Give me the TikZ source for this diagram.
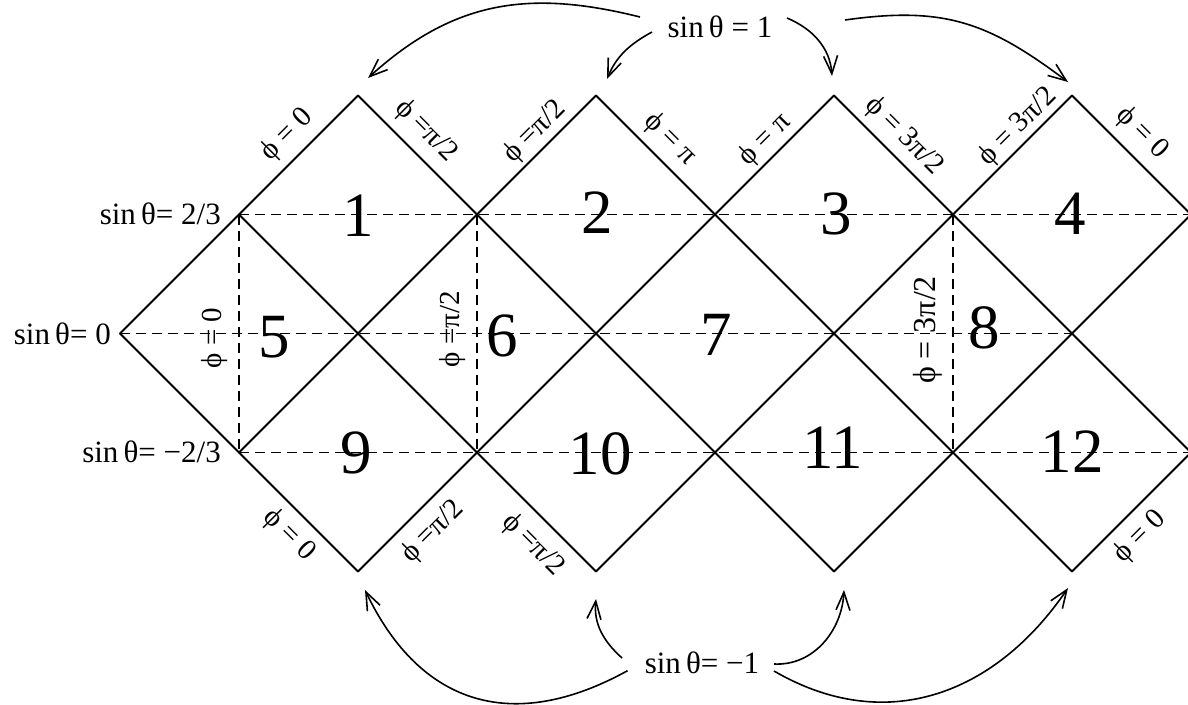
\documentclass[tikz,border=0pt]{standalone}
\usepackage{fontspec}
\setmainfont{Liberation Serif}
\usetikzlibrary{arrows.meta,calc}
\begin{document}
\begin{tikzpicture}[x=1pt,y=-1pt,
  edge/.style={line width=1.9pt,line cap=round},
  grid/.style={line width=1.8pt,dash pattern=on 10pt off 6pt},
  arr/.style={line width=1.6pt,-{Straight Barb[length=18pt,width=14pt,line width=1.6pt]}},
  lab/.style={font=\fontsize{29}{29}\selectfont,inner sep=0pt},
  sinlab/.style={font=\fontsize{31}{31}\selectfont,inner sep=0pt},
  num/.style={font=\fontsize{63}{63}\selectfont,inner sep=0pt}]
\useasboundingbox (0,0) rectangle (1188,704);
% vertices
\foreach \i in {0,...,9}{
  \pgfmathsetmacro{\xx}{120+119*\i}
  \coordinate (t\i) at (\xx,95.5);
  \coordinate (a\i) at (\xx,214.5);
  \coordinate (m\i) at (\xx,333.5);
  \coordinate (c\i) at (\xx,452.5);
  \coordinate (b\i) at (\xx,571.5);
}
% dashed lines
\draw[grid] (a1) -- (a9);
\draw[grid] (m0) -- (m8);
\draw[grid] (c1) -- (c9);
\draw[grid] (a1) -- (c1);
\draw[grid] (a3) -- (c3);
\draw[grid] (a7) -- (c7);
% rising diagonals
\draw[edge] (m0) -- (t2);
\draw[edge] (c1) -- (t4);
\draw[edge] (b2) -- (t6);
\draw[edge] (b4) -- (t8);
\draw[edge] (b6) -- (a9);
\draw[edge] (b8) -- (c9);
% falling diagonals
\draw[edge] (m0) -- (b2);
\draw[edge] (a1) -- (b4);
\draw[edge] (t2) -- (b6);
\draw[edge] (t4) -- (b8);
\draw[edge] (t6) -- (c9);
\draw[edge] (t8) -- (a9);
% face numbers
\node[num] (n1) at (358,216) {1};
\node[num] (n2) at (597,213) {2};
\node[num] (n3) at (836,214) {3};
\node[num] (n4) at (1070,214) {4};
\node[num] (n5) at (274,337) {5};
\node[num] (n6) at (502,336) {6};
\node[num] (n7) at (716,335) {7};
\node[num] (n8) at (984,328) {8};
\node[num] (n9) at (356,453) {9};
\node[num] (n10) at (600,454) {10};
\node[num] (n11) at (833,448) {11};
\node[num] (n12) at (1072,452) {12};
% latitude labels
\node[sinlab,anchor=base east] (l1) at (221,224) {sin\,θ= 2/3};
\node[sinlab,anchor=base east] (l2) at (111,344) {sin\,θ= 0};
\node[sinlab,anchor=base east] (l3) at (221,462) {sin\,θ= −2/3};
\node[sinlab,anchor=base] (s1) at (720,37) {sin\,θ = 1};
\node[sinlab,anchor=base] (sm1) at (702,673) {sin\,θ= −1};
% longitude labels, top
\node[lab,rotate=45] (p1) at (287,135) {ϕ = 0};
\node[lab,rotate=-45] (p2) at (426,131) {ϕ =π/2};
\node[lab,rotate=45] (p3) at (535,132) {ϕ =π/2};
\node[lab,rotate=-45] (p4) at (670,139) {ϕ = π};
\node[lab,rotate=45] (p5) at (765,140) {ϕ = π};
\node[lab,rotate=-45] (p6) at (904,136) {ϕ = 3π/2};
\node[lab,rotate=45] (p7) at (1018,127) {ϕ = 3π/2};
\node[lab,rotate=-45] (p8) at (1142,133) {ϕ = 0};
% longitude labels, bottom
\node[lab,rotate=-45] (q1) at (289,535) {ϕ = 0};
\node[lab,rotate=45] (q2) at (433,532) {ϕ =π/2};
\node[lab,rotate=-45] (q3) at (533,545) {ϕ =π/2};
\node[lab,rotate=45] (q4) at (1140,537) {ϕ = 0};
% longitude labels, vertical
\node[lab,rotate=90] (v1) at (215,338) {ϕ = 0};
\node[lab,rotate=90] (v2) at (453,329) {ϕ =π/2};
\node[lab,rotate=90,font=\fontsize{32}{32}\selectfont] (v3) at (928,330) {ϕ = 3π/2};
% arrow ends
\coordinate (a1s) at (640,17);   \coordinate (a1e) at (368,78);
\coordinate (a2s) at (652,32);   \coordinate (a2e) at (607,79);
\coordinate (a3s) at (787,18);   \coordinate (a3e) at (832,76);
\coordinate (a4s) at (845,20);   \coordinate (a4e) at (1068,82);
\coordinate (b1s) at (627.5,670.7); \coordinate (b1e) at (365,590);
\coordinate (b2s) at (622,658);  \coordinate (b2e) at (596,599);
\coordinate (b3s) at (774,664);  \coordinate (b3e) at (844,590);
\coordinate (b4s) at (774,671);  \coordinate (b4e) at (1068,588);
\draw[arr] (a1s) .. controls ($(a1s)+(-112,-28)$) and ($(a1e)+(85,-77)$) .. (a1e);
\draw[arr] (a2s) .. controls ($(a2s)+(-22,12)$) and ($(a2e)+(9.5,-23)$) .. (a2e);
\draw[arr] (a3s) .. controls ($(a3s)+(26,11)$) and ($(a3e)+(-2,-28)$) .. (a3e);
\draw[arr] (a4s) .. controls ($(a4s)+(99,-14)$) and ($(a4e)+(-80,-60)$) .. (a4e);
\draw[arr] (b1s) .. controls ($(b1s)+(-113,62.4)$) and ($(b1e)+(56,117)$) .. (b1e);
\draw[arr] (b2s) .. controls ($(b2s)+(-18.5,-16.7)$) and ($(b2e)+(-2.5,25)$) .. (b2e);
\draw[arr] (b3s) .. controls ($(b3s)+(40,2)$) and ($(b3e)+(-2,40)$) .. (b3e);
\draw[arr] (b4s) .. controls ($(b4s)+(111.8,65)$) and ($(b4e)+(-72.8,106.6)$) .. (b4e);
\end{tikzpicture}
\end{document}
